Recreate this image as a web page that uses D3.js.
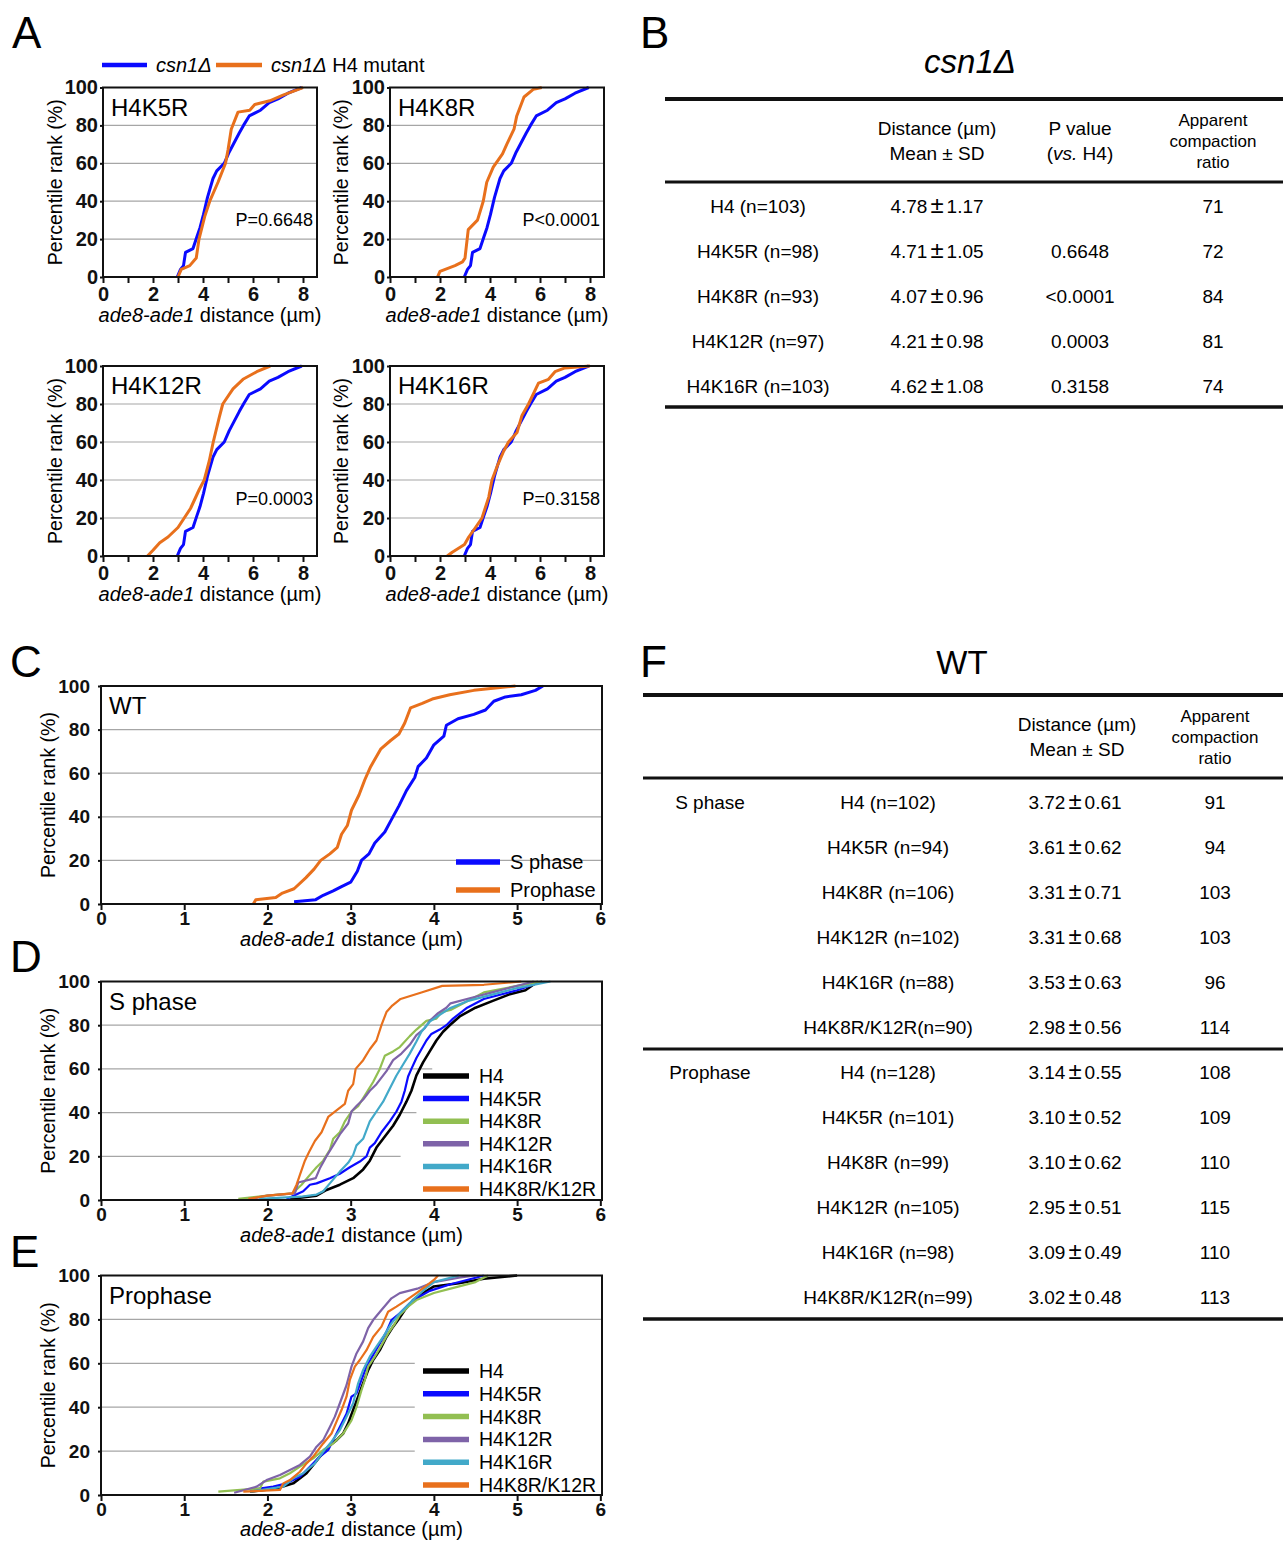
<!DOCTYPE html>
<html>
<head>
<meta charset="utf-8">
<script src="https://cdn.jsdelivr.net/npm/d3@7"></script>
<style>
  body { margin: 0; background: #fff; }
  svg { display: block; font-family: "Liberation Sans", Arial, sans-serif; }
</style>
</head>
<body>
<svg id="fig" width="1283" height="1541"></svg>
<script>
// ---------- data (distance in µm, percentile rank in %) ----------
const yTicks = [0, 20, 40, 60, 80, 100];
const aXLabels = [0, 2, 4, 6, 8];
const wtXLabels = [0, 1, 2, 3, 4, 5, 6];

// panel A: csn1Δ background; blue = H4, orange = mutant
const csnH4 = [[2.97,0],[3.1,4],[3.22,6],[3.3,13],[3.6,15],[3.75,21],[3.88,26],[4.02,33],[4.18,42],[4.4,52],[4.55,56],[4.85,60],[5.05,66],[5.25,71],[5.45,76],[5.62,80],[5.85,85],[6.3,88],[6.65,92],[7.0,94],[7.4,97],[7.95,100]];
const csnK5R = [[3.0,0],[3.13,4],[3.47,6],[3.73,10],[3.84,20],[4.07,32],[4.27,40],[4.6,50],[4.9,60],[5.0,67],[5.13,78],[5.4,87],[5.87,88],[6.07,91],[6.67,93],[7.2,96],[7.6,98],[8.0,100]];
const csnK8R = [[1.9,0],[2.0,3],[2.6,6],[2.9,8],[3.0,10],[3.13,25],[3.5,30],[3.73,40],[3.87,50],[4.13,58],[4.5,65],[4.67,70],[4.96,78],[5.07,85],[5.36,95],[5.73,99],[6.07,100]];
const csnK12R = [[1.78,0],[2.0,3],[2.27,7],[2.6,10],[3.0,15],[3.5,25],[3.85,35],[4.05,40],[4.25,50],[4.41,60],[4.65,73],[4.79,80],[5.2,88],[5.6,93],[6.15,97],[6.69,100]];
const csnK16R = [[2.29,0],[2.49,2],[2.98,6],[3.15,10],[3.42,15],[3.68,20],[3.95,31],[4.08,40],[4.28,47],[4.54,55],[4.74,60],[5.08,65],[5.28,74],[5.54,80],[5.94,91],[6.34,93],[6.6,97],[7.0,99],[8.0,100]];
const aNames = ["H4K5R", "H4K8R", "H4K12R", "H4K16R"];
const aPvals = ["P=0.6648", "P<0.0001", "P=0.0003", "P=0.3158"];
const aMutants = [csnK5R, csnK8R, csnK12R, csnK16R];

// panel C: WT
const wtS = [[2.32,1],[2.58,2],[2.67,4],[2.79,6],[2.89,8],[3.0,10],[3.08,15],[3.13,20],[3.22,23],[3.29,28],[3.41,33],[3.48,38],[3.58,45],[3.67,52],[3.77,58],[3.81,63],[3.91,67],[4.0,73],[4.12,77],[4.15,82],[4.29,85],[4.48,87],[4.62,89],[4.72,93],[4.86,95],[5.05,96],[5.22,98],[5.31,100]];
const wtPro = [[1.83,0],[1.86,2],[2.1,3],[2.18,5],[2.32,7],[2.46,12],[2.56,16],[2.64,20],[2.75,23],[2.84,26],[2.89,32],[2.96,36],[3.01,43],[3.1,50],[3.17,57],[3.24,63],[3.36,71],[3.48,75],[3.58,78],[3.65,83],[3.72,90],[3.86,92],[3.98,94],[4.19,96],[4.48,98],[4.98,100]];

// panel D: S phase
const sH4 = [[2.27,0.5],[2.59,2],[2.71,4.6],[2.87,7],[3.03,10],[3.15,14],[3.23,18],[3.31,24],[3.39,28],[3.51,34],[3.59,39],[3.67,45],[3.73,50],[3.79,57],[3.87,63],[3.95,68],[4.03,73],[4.11,77],[4.19,80],[4.31,84],[4.5,88],[4.7,91],[4.9,94],[5.1,96],[5.25,100]];
const sK5R = [[2.23,0.5],[2.43,4],[2.51,7],[2.59,7.6],[2.75,10],[2.87,12],[2.99,15],[3.11,17.6],[3.19,20],[3.23,24],[3.29,26],[3.37,31],[3.47,36],[3.55,40.5],[3.61,45],[3.65,50],[3.69,56.5],[3.73,60],[3.79,65],[3.85,69],[3.91,73],[3.97,76],[4.07,78],[4.15,80],[4.23,83],[4.4,88],[4.6,92],[5.0,96],[5.3,100]];
const sK8R = [[1.65,0.5],[2.0,2],[2.3,3],[2.41,7],[2.51,11.5],[2.59,15],[2.67,18],[2.75,23],[2.79,28],[2.87,31],[2.93,36],[3.01,40.5],[3.09,43],[3.19,49],[3.27,54],[3.35,60],[3.41,66],[3.51,68],[3.59,70],[3.71,75],[3.79,78],[3.91,82],[4.03,83],[4.09,86],[4.2,87],[4.4,91],[4.6,95],[5.0,98],[5.3,100]];
const sK12R = [[1.8,0.5],[2.0,2],[2.33,3],[2.37,8],[2.58,10],[2.63,14.5],[2.71,20],[2.79,25],[2.87,30],[2.97,35],[3.01,40.5],[3.07,43],[3.15,46],[3.23,50],[3.31,53],[3.43,59],[3.51,64],[3.61,67],[3.71,71],[3.79,75.5],[3.89,78.6],[3.95,82],[4.05,85.5],[4.15,88],[4.2,90],[4.5,93],[4.7,95],[4.9,97],[5.2,100]];
const sK16R = [[1.9,0.5],[2.4,1.5],[2.59,2.5],[2.67,4],[2.75,7.6],[2.87,13],[2.97,17],[3.03,20.6],[3.07,25],[3.15,28],[3.23,36],[3.31,40.5],[3.39,45],[3.47,51],[3.55,57],[3.63,62],[3.71,67],[3.79,72.5],[3.85,77],[3.95,81.6],[4.07,84.7],[4.19,87.7],[4.4,91],[4.7,94],[5.0,97],[5.4,100]];
const sK8K12 = [[1.77,0.5],[2.0,2],[2.3,3],[2.35,7],[2.39,11.5],[2.45,18],[2.5,22],[2.57,27],[2.65,31],[2.73,38],[2.83,41],[2.93,44],[2.97,50],[3.03,53],[3.06,60],[3.15,64],[3.23,69],[3.31,73],[3.37,80],[3.43,86],[3.5,89],[3.6,92],[3.85,95],[4.1,98],[4.6,98.5],[5.05,100]];

// panel E: prophase
const pH4 = [[1.79,1.5],[2.11,3],[2.31,5.3],[2.47,9.9],[2.55,13.7],[2.63,17.5],[2.73,22],[2.83,25],[2.91,28],[2.97,32.6],[3.03,38.7],[3.09,44.8],[3.15,50.9],[3.21,56.9],[3.27,61.5],[3.35,66],[3.43,72],[3.51,76.7],[3.57,79.7],[3.65,84.3],[3.75,88.8],[3.87,92],[4.0,95],[4.3,96.5],[4.6,98.5],[5.0,100]];
const pK5R = [[1.79,2.3],[2.07,3.8],[2.23,5.3],[2.39,8.3],[2.51,12.9],[2.63,17.5],[2.73,20.5],[2.79,25],[2.87,31],[2.95,37],[3.01,44.8],[3.07,46.3],[3.13,52.4],[3.19,58.5],[3.27,63.8],[3.35,69],[3.43,74.4],[3.49,79.7],[3.59,82.8],[3.71,87.3],[3.83,90.4],[3.95,93],[4.2,96],[4.5,99],[4.6,100]];
const pK8R = [[1.41,1.5],[1.91,3],[1.95,6.1],[2.15,7.6],[2.27,9.9],[2.39,12.9],[2.55,16.7],[2.67,20.5],[2.79,23.5],[2.91,28],[3.01,34],[3.07,40],[3.13,47.8],[3.17,52.4],[3.21,58.5],[3.29,63],[3.37,68.3],[3.45,73.6],[3.53,78],[3.59,82],[3.69,85.8],[3.79,88.8],[4.0,92],[4.2,94],[4.5,97],[4.65,100]];
const pK12R = [[1.6,1],[1.87,3.8],[1.99,6.8],[2.15,9.1],[2.27,11.4],[2.39,13.7],[2.51,17.5],[2.59,22],[2.67,25],[2.75,31],[2.81,35.7],[2.87,41.8],[2.95,50],[3.01,58.5],[3.07,64.5],[3.15,70],[3.21,76],[3.27,79.7],[3.37,84.3],[3.49,89.6],[3.59,92],[3.8,94],[4.0,97],[4.3,99],[4.5,100]];
const pK16R = [[1.79,1.5],[2.19,3.8],[2.31,7.6],[2.43,9.9],[2.57,14.4],[2.67,19.7],[2.77,24.3],[2.87,29.6],[2.95,35.7],[3.03,41.8],[3.09,50.9],[3.15,57],[3.23,63],[3.31,67.6],[3.39,72],[3.49,78.2],[3.59,82.8],[3.71,87.3],[3.79,90.4],[3.9,94],[4.0,97],[4.3,100]];
const pK8K12 = [[1.71,1.5],[2.15,2.3],[2.19,5.3],[2.27,6.8],[2.39,10.6],[2.47,14.4],[2.55,17.5],[2.67,23.5],[2.77,28],[2.83,33.4],[2.89,38.7],[2.95,44.8],[2.99,52.4],[3.05,58.5],[3.11,61.5],[3.19,66],[3.27,72],[3.37,76.7],[3.45,83.5],[3.55,85.8],[3.67,88.8],[3.79,92],[3.9,95],[4.0,98],[4.05,100]];

const strainNames = ["H4", "H4K5R", "H4K8R", "H4K12R", "H4K16R", "H4K8R/K12R"];
const strainColors = ["#000000", "#0a0aff", "#92bf52", "#7e63a8", "#42a9c9", "#e8701c"];

// table B (csn1Δ)
const bStrains = ["H4 (n=103)", "H4K5R (n=98)", "H4K8R (n=93)", "H4K12R (n=97)", "H4K16R (n=103)"];
const bMeans = ["4.78", "4.71", "4.07", "4.21", "4.62"];
const bSds = ["1.17", "1.05", "0.96", "0.98", "1.08"];
const bPvals = ["", "0.6648", "<0.0001", "0.0003", "0.3158"];
const bRatios = ["71", "72", "84", "81", "74"];

// table F (WT)
const fPhases = ["S phase", "Prophase"];
const fStrains = ["H4 (n=102)", "H4K5R (n=94)", "H4K8R (n=106)", "H4K12R (n=102)", "H4K16R (n=88)", "H4K8R/K12R(n=90)",
                  "H4 (n=128)", "H4K5R (n=101)", "H4K8R (n=99)", "H4K12R (n=105)", "H4K16R (n=98)", "H4K8R/K12R(n=99)"];
const fMeans = ["3.72", "3.61", "3.31", "3.31", "3.53", "2.98", "3.14", "3.10", "3.10", "2.95", "3.09", "3.02"];
const fSds = ["0.61", "0.62", "0.71", "0.68", "0.63", "0.56", "0.55", "0.52", "0.62", "0.51", "0.49", "0.48"];
const fRatios = ["91", "94", "103", "103", "96", "114", "108", "109", "110", "115", "110", "113"];

// ---------- drawing ----------
const svg = d3.select("#fig");
const BLUE = "#0a0aff", ORANGE = "#e8701c", GRID = "#a6a6a6";

function xTitle(g, cx, y) {
  const t = g.append("text").attr("x", cx).attr("y", y).attr("text-anchor", "middle")
    .attr("font-size", 20);
  t.append("tspan").attr("font-style", "italic").text("ade8-ade1");
  t.append("tspan").text(" distance (\u00b5m)");
}

// one percentile-rank plot
function cdfPanel(o) {
  const x = d3.scaleLinear().domain([0, o.xMax]).range([o.left, o.right]);
  const y = d3.scaleLinear().domain([0, 100]).range([o.bottom, o.top]);
  const g = svg.append("g");

  g.selectAll("line.grid").data([20, 40, 60, 80]).join("line")
    .attr("x1", o.left).attr("x2", v => x(o.gridEnd ? o.gridEnd[v] : o.xMax))
    .attr("y1", v => y(v)).attr("y2", v => y(v))
    .attr("stroke", GRID).attr("stroke-width", 1.2);

  const line = d3.line().x(d => x(d[0])).y(d => y(d[1]));
  g.selectAll("path.curve").data(o.series).join("path")
    .attr("d", s => line(s.pts)).attr("fill", "none")
    .attr("stroke", s => s.color).attr("stroke-width", s => s.w)
    .attr("stroke-linejoin", "round");

  g.append("rect").attr("x", o.left).attr("y", o.top)
    .attr("width", o.right - o.left).attr("height", o.bottom - o.top)
    .attr("fill", "none").attr("stroke", "#111").attr("stroke-width", 2);

  const xa = g.append("g").attr("transform", `translate(0,${o.bottom})`)
    .call(d3.axisBottom(x).tickValues(d3.range(0, Math.floor(o.xMax) + 1))
      .tickFormat(d => o.xLabels.includes(d) ? d : "").tickSize(6).tickPadding(o.xPad));
  const ya = g.append("g").attr("transform", `translate(${o.left},0)`)
    .call(d3.axisLeft(y).tickValues(yTicks).tickSize(3).tickPadding(o.yPad));
  for (const a of [xa, ya]) {
    a.select(".domain").remove();
    a.selectAll("line").attr("stroke", "#111").attr("stroke-width", 2);
    a.selectAll("text").attr("font-size", o.tickSize).attr("font-weight", "bold")
      .attr("font-family", "'Liberation Sans', Arial, sans-serif").attr("fill", "#111");
  }

  g.append("text").attr("transform", `translate(${o.yTitleX},${(o.top + o.bottom) / 2}) rotate(-90)`)
    .attr("text-anchor", "middle").attr("font-size", 19.5).text("Percentile rank (%)");
  xTitle(g, (o.left + o.right) / 2, o.bottom + o.titleGap);

  g.append("text").attr("x", o.left + 8).attr("y", o.top + 28).attr("font-size", 24).text(o.name);
  if (o.p) g.append("text").attr("x", o.right - 4).attr("y", o.bottom - 51)
    .attr("text-anchor", "end").attr("font-size", 18).text(o.p);

  if (o.legend) {
    const lg = g.selectAll("g.leg").data(o.legend.items).join("g")
      .attr("transform", (d, i) => `translate(${o.legend.x},${o.legend.y + i * o.legend.step})`);
    lg.append("line").attr("x1", 0).attr("x2", o.legend.len)
      .attr("stroke", d => d.color).attr("stroke-width", 5.5);
    lg.append("text").attr("x", o.legend.len + 10).attr("y", 7)
      .attr("font-size", o.legend.size).text(d => d.name);
  }
  return g;
}

// ----- panel A -----
const aBoxes = [
  { left: 103, right: 317, top: 87.5, bottom: 277, yTitleX: 62 },
  { left: 390, right: 604, top: 87.5, bottom: 277, yTitleX: 348 },
  { left: 103, right: 317, top: 366, bottom: 556, yTitleX: 62 },
  { left: 390, right: 604, top: 366, bottom: 556, yTitleX: 348 },
];
aBoxes.forEach((b, i) => cdfPanel({
  ...b, xMax: 8.56, xLabels: aXLabels, yPad: 2, xPad: 4, tickSize: 20, titleGap: 45,
  name: aNames[i], p: aPvals[i],
  series: [
    { pts: csnH4, color: BLUE, w: 3 },
    { pts: aMutants[i], color: ORANGE, w: 3 },
  ],
}));

// legend above panel A
const aLeg = svg.append("g");
aLeg.append("line").attr("x1", 102).attr("x2", 147).attr("y1", 65).attr("y2", 65)
  .attr("stroke", BLUE).attr("stroke-width", 4.5);
aLeg.append("text").attr("x", 156).attr("y", 72).attr("font-size", 20)
  .attr("font-style", "italic").text("csn1\u0394");
aLeg.append("line").attr("x1", 216).attr("x2", 262).attr("y1", 65).attr("y2", 65)
  .attr("stroke", ORANGE).attr("stroke-width", 4.5);
const aLegT = aLeg.append("text").attr("x", 271).attr("y", 72).attr("font-size", 20);
aLegT.append("tspan").attr("font-style", "italic").text("csn1\u0394");
aLegT.append("tspan").text(" H4 mutant");

// ----- panels C, D, E -----
const wtBox = { left: 101, right: 602, xMax: 6.02, xLabels: wtXLabels, yPad: 8, xPad: 2,
                tickSize: 19, yTitleX: 55, titleGap: 42 };

cdfPanel({
  ...wtBox, top: 686, bottom: 904, name: "WT",
  series: [
    { pts: wtS, color: BLUE, w: 3 },
    { pts: wtPro, color: ORANGE, w: 3 },
  ],
  legend: { x: 456, y: 862, step: 28, len: 44, size: 20,
    items: [{ name: "S phase", color: BLUE }, { name: "Prophase", color: ORANGE }] },
});

const strainLegend = strainNames.map((n, i) => ({ name: n, color: strainColors[i] }));

cdfPanel({
  ...wtBox, top: 981.5, bottom: 1200, name: "S phase",
  gridEnd: { 20: 3.6, 40: 3.79, 60: 3.98, 80: 6.02 },
  series: [sH4, sK5R, sK8R, sK12R, sK16R, sK8K12].map((pts, i) =>
    ({ pts, color: strainColors[i], w: i === 0 ? 2.6 : 2.2 })),
  legend: { x: 423, y: 1076, step: 22.6, len: 46, size: 19.5, items: strainLegend },
});

cdfPanel({
  ...wtBox, top: 1275.5, bottom: 1495, name: "Prophase", titleGap: 41,
  gridEnd: { 20: 3.77, 40: 3.77, 60: 3.77, 80: 6.02 },
  series: [pH4, pK5R, pK8R, pK12R, pK16R, pK8K12].map((pts, i) =>
    ({ pts, color: strainColors[i], w: i === 0 ? 2.6 : 2.2 })),
  legend: { x: 423, y: 1371, step: 22.8, len: 46, size: 19.5, items: strainLegend },
});

// ----- panel letters -----
svg.selectAll("text.letter").data([
  ["A", 12, 48], ["B", 640, 48], ["C", 10, 677], ["D", 10, 972], ["E", 10, 1267], ["F", 640, 677],
]).join("text").attr("class", "letter")
  .attr("x", d => d[1]).attr("y", d => d[2]).attr("font-size", 44).text(d => d[0]);

// ----- tables -----
function rule(x1, x2, y, w) {
  svg.append("line").attr("x1", x1).attr("x2", x2).attr("y1", y).attr("y2", y)
    .attr("stroke", "#111").attr("stroke-width", w);
}
function cell(x, y, txt, size = 19) {
  return svg.append("text").attr("x", x).attr("y", y).attr("text-anchor", "middle")
    .attr("font-size", size).text(txt);
}
function meanSd(x, y, m, s) {
  const t = svg.append("text").attr("x", x).attr("y", y).attr("text-anchor", "middle").attr("font-size", 19);
  t.append("tspan").text(m);
  t.append("tspan").attr("font-size", 24).attr("dx", 3).text("\u00b1");
  t.append("tspan").attr("dx", 3).text(s);
}

// B
svg.append("text").attr("x", 970).attr("y", 73).attr("text-anchor", "middle")
  .attr("font-size", 33).attr("font-style", "italic").text("csn1\u0394");
rule(665, 1283, 99, 4);
cell(937, 135, "Distance (\u00b5m)");
cell(937, 160, "Mean \u00b1 SD");
cell(1080, 135, "P value");
const vs = cell(1080, 160, "");
vs.append("tspan").text("(");
vs.append("tspan").attr("font-style", "italic").text("vs.");
vs.append("tspan").text(" H4)");
cell(1213, 126, "Apparent", 17);
cell(1213, 147, "compaction", 17);
cell(1213, 168, "ratio", 17);
rule(665, 1283, 182, 3);
bStrains.forEach((s, i) => {
  const y = 213 + i * 45;
  cell(758, y, s);
  meanSd(937, y, bMeans[i], bSds[i]);
  cell(1080, y, bPvals[i]);
  cell(1213, y, bRatios[i]);
});
rule(665, 1283, 407, 3.5);

// F
cell(962, 674, "WT", 33);
rule(643, 1283, 695, 4);
cell(1077, 731, "Distance (\u00b5m)");
cell(1077, 756, "Mean \u00b1 SD");
cell(1215, 722, "Apparent", 17);
cell(1215, 743, "compaction", 17);
cell(1215, 764, "ratio", 17);
rule(643, 1283, 778, 3);
fStrains.forEach((s, i) => {
  const y = 809 + i * 45;
  if (i % 6 === 0) cell(710, y, fPhases[i / 6]);
  cell(888, y, s);
  meanSd(1075, y, fMeans[i], fSds[i]);
  cell(1215, y, fRatios[i]);
});
rule(643, 1283, 1049, 3);
rule(643, 1283, 1319, 3.5);
</script>
</body>
</html>
